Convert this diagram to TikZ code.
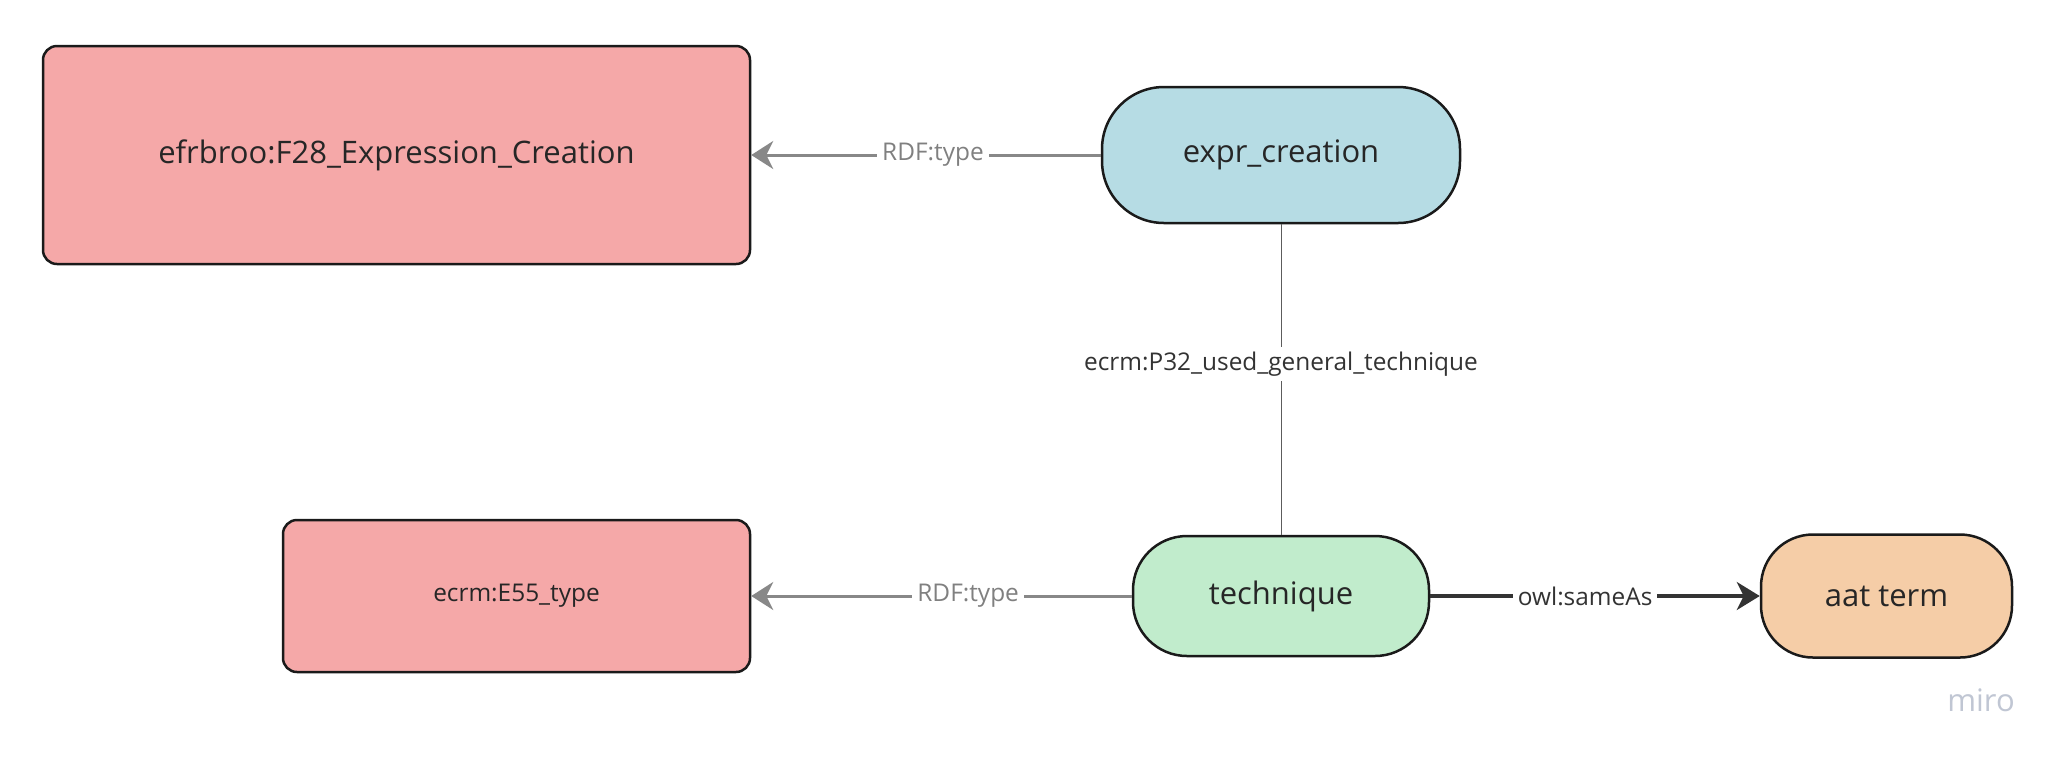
\documentclass[tikz,border=0pt]{standalone}
\usepackage{fontspec}
\setmainfont{Open Sans}
\usetikzlibrary{arrows.meta}
\definecolor{pinkfill}{HTML}{F5A8A8}
\definecolor{bluefill}{HTML}{B6DCE4}
\definecolor{greenfill}{HTML}{C1ECCC}
\definecolor{peachfill}{HTML}{F5CDA7}
\definecolor{borderc}{HTML}{1A1A1A}
\definecolor{textc}{HTML}{262626}
\definecolor{graylbl}{HTML}{808080}
\definecolor{grayline}{HTML}{888888}
\definecolor{darkline}{HTML}{333333}
\definecolor{mirogray}{HTML}{C0C6D3}
\tikzset{
  classbox/.style={draw=borderc, line width=1.25pt, fill=pinkfill, rounded corners=7pt,
    inner sep=0pt, text=textc},
  pill/.style={draw=borderc, line width=1.25pt, rounded corners=26pt,
    inner sep=0pt, text=textc, font=\fontsize{15.5pt}{18pt}\selectfont},
  bigtxt/.style={font=\fontsize{15.5pt}{18pt}\selectfont},
  smalltxt/.style={font=\fontsize{12.2pt}{14pt}\selectfont},
  lbl/.style={fill=white, inner sep=2.5pt, font=\fontsize{12.2pt}{14pt}\selectfont},
  rdfarrow/.style={draw=grayline, line width=1.5pt,
    -{Stealth[length=11pt,width=14pt,inset=3.5pt]}},
  samearrow/.style={draw=darkline, line width=1.8pt,
    -{Stealth[length=11.5pt,width=14pt,inset=3.5pt]}},
  thinline/.style={draw=darkline!80, line width=0.5pt}
}
\begin{document}
\begin{tikzpicture}[x=0.5pt,y=-0.5pt]
\useasboundingbox[fill=white] (0,0) rectangle (2062,757);
\node[classbox, bigtxt, minimum width=353.5pt, minimum height=109pt] (f28) at (396.5,155) {efrbroo:F28\_Expression\_Creation};
\node[classbox, smalltxt, minimum width=233.5pt, minimum height=76pt] (e55) at (516.5,596) {ecrm:E55\_type};
\node[pill, fill=bluefill, minimum width=179pt, minimum height=68pt, rounded corners=31pt] (expr) at (1281,155) {expr\_creation};
\node[pill, fill=greenfill, minimum width=148pt, minimum height=60pt, rounded corners=27pt] (tech) at (1281,596) {technique};
\node[pill, fill=peachfill, minimum width=125.5pt, minimum height=61.5pt, rounded corners=26pt] (aat) at (1886.5,596) {aat term};
\draw[rdfarrow] (expr.west) -- (f28.east) node[lbl, text=graylbl, pos=0.48] {RDF:type};
\draw[rdfarrow] (tech.west) -- (e55.east) node[lbl, text=graylbl, pos=0.43] {RDF:type};
\draw[samearrow] (tech.east) -- (aat.west) node[lbl, text=darkline, pos=0.47] {owl:sameAs};
\draw[thinline] (expr.south) -- (tech.north) node[lbl, text=darkline, pos=0.45] {ecrm:P32\_used\_general\_technique};
\node[text=mirogray, font=\fontsize{15.5pt}{17pt}\selectfont, anchor=center] (miro) at (1981,700) {miro};
\end{tikzpicture}
\end{document}
